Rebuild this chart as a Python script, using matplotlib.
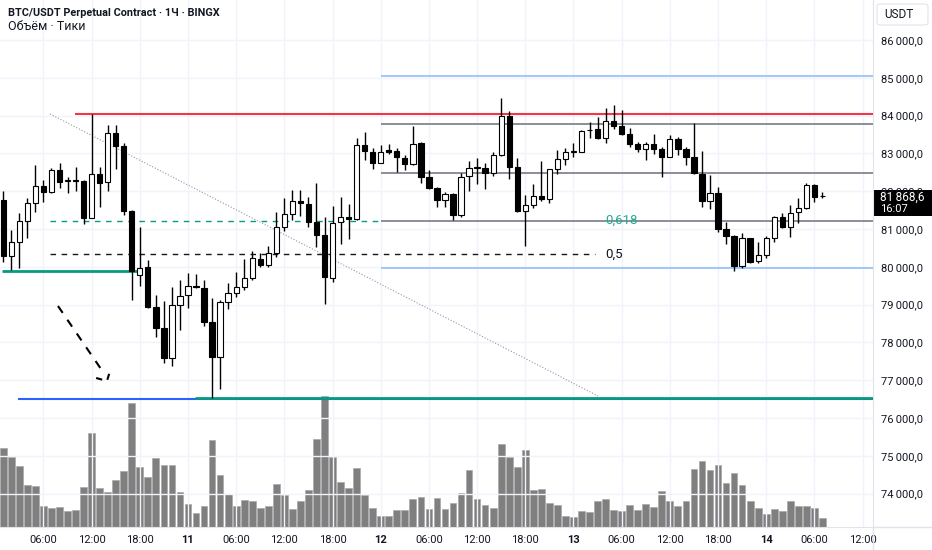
import numpy as np
import pandas as pd
import matplotlib
matplotlib.use('Agg')
import matplotlib.pyplot as plt
from matplotlib.patches import Rectangle, FancyBboxPatch
from matplotlib.lines import Line2D

plt.rcParams['font.family'] = ['Roboto', 'DejaVu Sans']

# hourly candles, BTC/USDT perp, 10 Mar 01:00 .. 14 Mar 07:00
times = pd.date_range('2025-03-10 01:00', periods=103, freq='h')

opens = [81767, 80294, 80664, 81220, 81696, 82138, 81987, 82561, 82280, 82290,
         82270, 81300, 82455, 82235, 83532, 83204, 81476, 79783, 79986, 78945,
         78389, 77595, 78989, 79250, 79490, 79430, 78548, 77606, 79061, 79299,
         79458, 79696, 80198, 80047, 80357, 81061, 81397, 81749, 81660, 81193,
         80841, 79696, 81180, 81326, 81265, 83222, 83045, 82754, 83090, 83072,
         82886, 82711, 83267, 82368, 82093, 81767, 81926, 81370, 82402, 82620,
         82606, 82474, 82958, 83990, 82632, 81484, 81635, 81880, 81786, 82579,
         82852, 83050, 83045, 83610, 83637, 83400, 83866, 83725, 83513, 83240,
         83108, 83240, 83108, 82913, 83373, 83108, 82913, 82455, 81741, 81944,
         80992, 80823, 80021, 80754, 80150, 80312, 80754, 81326, 81061, 81440,
         81547, 82164, 81860]
highs = [82013, 80973, 81431, 81828, 82693, 82288, 82606, 82738, 82370, 82632,
         82290, 84050, 82648, 83751, 83743, 83267, 81500, 81061, 80180, 79254,
         79095, 79474, 79651, 79828, 79810, 79651, 79167, 79122, 79580, 79870,
         80198, 80426, 80357, 80558, 81458, 81828, 82032, 82032, 81855, 82225,
         81326, 81608, 81838, 81661, 83416, 83558, 83135, 83222, 83241, 83135,
         82958, 83725, 83290, 82561, 82119, 81987, 81940, 82490, 82807, 82870,
         82738, 83045, 84458, 84130, 82870, 81900, 82182, 82807, 82600, 83090,
         83150, 83283, 83620, 83840, 83970, 84193, 84280, 84148, 83664, 83310,
         83310, 83505, 83178, 83487, 83442, 83178, 83813, 83064, 82429, 82119,
         81193, 80840, 80886, 80770, 80664, 80823, 81344, 81415, 81635, 81812,
         82209, 82190, 81990]
lows = [80135, 79915, 79976, 80754, 81450, 81722, 81944, 82077, 81944, 82013,
        81132, 81280, 81590, 82013, 82587, 81370, 79122, 79500, 78900, 78135,
        77447, 77384, 78328, 78900, 79430, 78434, 76537, 76759, 78876, 79210,
        79386, 79651, 80003, 80003, 80267, 80955, 81238, 81344, 81045, 80532,
        79016, 79607, 80603, 80728, 81230, 82825, 82579, 82738, 82976, 82516,
        82561, 82693, 82209, 82050, 81590, 81574, 81238, 81310, 82005, 82182,
        82058, 82402, 82940, 82315, 81450, 80550, 81547, 81740, 81680, 82447,
        82693, 82910, 83030, 83400, 83390, 83267, 83637, 83487, 83180, 83045,
        82825, 82976, 82368, 82900, 82958, 82693, 82455, 81574, 81521, 80929,
        80603, 79897, 79960, 80093, 80108, 80241, 80664, 81019, 80780, 81150,
        81530, 81706, 81820]
closes = [80294, 80664, 81212, 81696, 82138, 81979, 82561, 82251, 82300, 82280,
          81300, 82455, 82225, 83532, 83204, 81476, 79889, 79976, 78945, 78389,
          77595, 78989, 79236, 79500, 79470, 78548, 77606, 79061, 79299, 79458,
          79696, 80225, 80047, 80357, 81045, 81397, 81749, 81680, 81193, 80841,
          79738, 81150, 81326, 81265, 83222, 83072, 82754, 83045, 83045, 82897,
          82711, 83249, 82384, 82077, 81767, 81918, 81370, 82384, 82622, 82640,
          82474, 82958, 83990, 82632, 81484, 81635, 81873, 81786, 82579, 82852,
          83045, 83060, 83601, 83620, 83400, 83866, 83725, 83513, 83249, 83108,
          83240, 83108, 82913, 83373, 83125, 82913, 82474, 81741, 81944, 81000,
          80823, 80021, 80754, 80135, 80312, 80754, 81326, 81061, 81431, 81547,
          82164, 81839, 81868.6]
volumes = [237, 209, 183, 127, 123, 64, 58, 59, 49, 50,
           119, 281, 116, 104, 142, 167, 373, 179, 150, 207,
           185, 187, 105, 70, 43, 64, 262, 157, 99, 63,
           82, 78, 56, 62, 129, 96, 55, 79, 110, 265,
           393, 211, 136, 118, 176, 97, 58, 33, 33, 50,
           52, 84, 91, 55, 86, 55, 72, 102, 170, 84,
           66, 56, 250, 211, 181, 231, 111, 115, 72, 66,
           34, 29, 47, 45, 77, 83, 51, 48, 65, 52,
           70, 60, 108, 79, 64, 78, 174, 197, 171, 187,
           131, 162, 125, 79, 58, 39, 54, 47, 79, 64,
           63, 56, 26]

# drawn levels
red_level = 84050
blue_levels = [85050, 79970]
fib_lines = [83780, 82490, 81220]
fib_618 = 81220
fib_half = 80330
teal_left = 79890
low_teal = 76540
low_blue = 76495
last_price = closes[-1]

TXT = '#131722'
GRIDC = '#f0f3fa'
BORDER = '#e0e3eb'


def fmt(v):
    return f"{v:,.1f}".replace(',', '\u2009').replace('.', ',')


fig = plt.figure(figsize=(9.32, 5.5), dpi=100)
fig.patch.set_facecolor('white')
ax = fig.add_axes([0, 23 / 550, 873 / 932, 527 / 550])
ax2 = ax.twinx()

x = np.arange(len(times))
o = np.array(opens, float)
c = np.array(closes, float)
up = c >= o

# volume
ax2.bar(x, volumes, width=0.84, color='#7f7f7f', edgecolor='#a9a9a9', linewidth=0.5)
ax2.set_ylim(0, max(volumes) * 527 / 131)
ax2.set_yticks([])
for s in ax2.spines.values():
    s.set_visible(False)
ax.set_zorder(ax2.get_zorder() + 1)
ax.patch.set_visible(False)

# candles
ax.vlines(x, lows, highs, color='black', lw=1, zorder=4)
body_low = np.minimum(o, c)
body_h = np.maximum(np.abs(c - o), 22)
ax.bar(x, body_h, bottom=body_low, width=0.66,
       color=np.where(up, 'white', 'black'), edgecolor='black', linewidth=0.8, zorder=5)

x_right = 108.3
ax.set_xlim(-0.41, x_right)
ax.set_ylim(73116, 87058)

# drawings
ax.hlines(red_level, 8.93, x_right, color='#f23645', lw=1.5, zorder=3)
ax.hlines(blue_levels, 47.0, x_right, color='#90bff9', lw=1.2, zorder=3)
ax.hlines(fib_lines, 47.0, x_right, color='#787b86', lw=1.2, zorder=3)
ax.hlines(fib_618, 5.82, 47.0, color='#089981', lw=1, linestyles=(0, (4, 4)), zorder=3)
ax.hlines(fib_half, 5.82, 73.7, color='#131722', lw=1, linestyles=(0, (4, 4)), zorder=3)
ax.text(75.0, fib_618, '0,618', color='#22ab94', fontsize=9.5, va='center', ha='left', zorder=6)
ax.text(75.0, fib_half, '0,5', color=TXT, fontsize=9.5, va='center', ha='left', zorder=6)
ax.hlines(teal_left, -0.16, 16.8, color='#089981', lw=2, zorder=3)
ax.hlines(low_blue, 1.83, x_right, color='#2962ff', lw=1.5, zorder=3)
ax.hlines(low_teal, 23.9, x_right, color='#089981', lw=2, zorder=3)
ax.plot([5.82, 74.06], [84042, 76582], color='#9598a1', lw=0.8, ls=':', zorder=3)
ax.plot([6.81, 12.42], [78963, 77217], color='black', lw=1.5, ls=(0, (4, 4)), zorder=3)
ax.plot([11.56, 12.91, 13.29], [77058, 76979, 77243], color='black', lw=1.5,
        ls=(0, (3, 3)), zorder=3)

# axes
tick_times = pd.date_range('2025-03-10 06:00', '2025-03-14 12:00', freq='6h')
tick_pos = (tick_times - times[0]) / pd.Timedelta('1h')
tick_lab = [str(t.day) if t.hour == 0 else t.strftime('%H:%M') for t in tick_times]
ax.set_xticks(tick_pos)
ax.set_xticklabels(tick_lab)
for lab, t in zip(ax.get_xticklabels(), tick_times):
    if t.hour == 0:
        lab.set_fontweight('bold')

yt = np.arange(74000, 87000, 1000)
ax.set_yticks(yt)
ax.set_yticklabels([fmt(v) for v in yt])
ax.yaxis.tick_right()
ax.tick_params(axis='both', length=0, labelsize=8, colors=TXT)
ax.tick_params(axis='y', pad=6)
ax.tick_params(axis='x', pad=6)
ax.grid(color=GRIDC, lw=1)
ax.set_axisbelow(True)
for s in ['top', 'left']:
    ax.spines[s].set_visible(False)
for s in ['right', 'bottom']:
    ax.spines[s].set_color(BORDER)
fig.add_artist(Line2D([873 / 932, 1], [23 / 550, 23 / 550], color=BORDER, lw=1))
fig.add_artist(Line2D([873 / 932, 873 / 932], [0, 23 / 550], color=BORDER, lw=1))

# header
fig.text(8 / 932, 1 - 13 / 550, 'BTC/USDT Perpetual Contract · 1Ч · BINGX',
         fontsize=7.8, fontweight='bold', color=TXT, va='center')
fig.text(8 / 932, 1 - 27 / 550, 'Объём · Тики', fontsize=9, color=TXT, va='center')

# currency box
fig.add_artist(FancyBboxPatch((877 / 932, 1 - 25 / 550), 51 / 932, 21 / 550,
                              boxstyle='round,pad=0,rounding_size=0.004',
                              transform=fig.transFigure, facecolor='white',
                              edgecolor=BORDER, lw=0.8))
fig.text(884 / 932, 1 - 14.5 / 550, 'USDT', fontsize=8.5, color=TXT, va='center')

# last price label
fig.add_artist(Rectangle((873 / 932, 1 - 216 / 550), 59 / 932, 26 / 550,
                         transform=fig.transFigure, facecolor='black', edgecolor='none'))
fig.text(880 / 932, 1 - 197 / 550, fmt(last_price), fontsize=8.5, color='white', va='center')
fig.text(880 / 932, 1 - 209 / 550, '16:07', fontsize=8, color='white', va='center')

fig.savefig('out.png', dpi=100, facecolor='white')
